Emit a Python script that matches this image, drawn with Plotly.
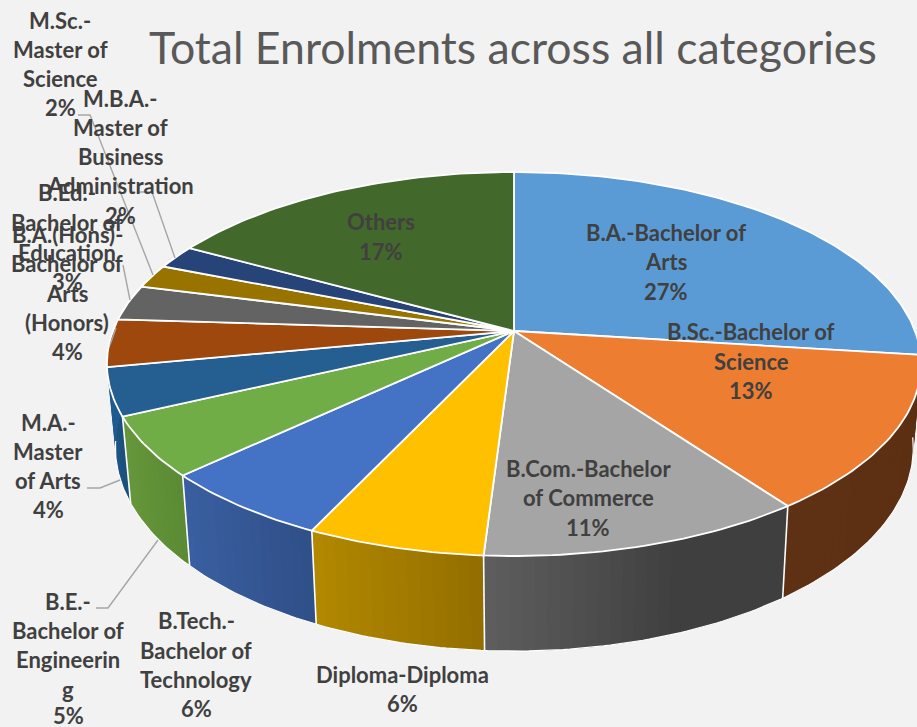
import numpy as np
import plotly.graph_objects as go

# Enrolment shares, clockwise from twelve o'clock
programmes = ["B.A.-Bachelor of Arts", "B.Sc.-Bachelor of Science", "B.Com.-Bachelor of Commerce",
              "Diploma-Diploma", "B.Tech.-Bachelor of Technology", "B.E.-Bachelor of Engineering",
              "M.A.-Master of Arts", "B.A.(Hons)-Bachelor of Arts (Honors)",
              "B.Ed.-Bachelor of Education", "M.B.A.-Master of Business Administration",
              "M.Sc.-Master of Science", "Others"]
shares = [27, 13, 11, 6, 6, 5, 4, 4, 3, 2, 2, 17]
top_colors = ["#5B9BD5", "#ED7D31", "#A5A5A5", "#FFC000", "#4472C4", "#70AD47",
              "#255E91", "#9E480E", "#636363", "#997300", "#264478", "#43682B"]
wall_left = ["#355D80", "#5F3114", "#5E5E5E", "#B38900", "#3A60A2", "#66983B",
             "#1F5B8E", "#1F5B8E", "#454545", "#6B5000", "#1A2F54", "#2F491E"]
wall_right = ["#355D80", "#5B2E12", "#3F3F3F", "#936E00", "#304F88", "#5B8A34",
              "#1B4F7C", "#1F5B8E", "#454545", "#6B5000", "#1A2F54", "#2F491E"]

# Text lines of each data label, with its centre x and the y of every line
label_lines = [
    ["B.A.-Bachelor of", "Arts"],
    ["B.Sc.-Bachelor of", "Science"],
    ["B.Com.-Bachelor", "of Commerce"],
    ["Diploma-Diploma"],
    ["B.Tech.-", "Bachelor of", "Technology"],
    ["B.E.-", "Bachelor of", "Engineerin", "g"],
    ["M.A.-", "Master", "of Arts"],
    ["B.A.(Hons)-", "Bachelor of", "Arts", "(Honors)"],
    ["B.Ed.-", "Bachelor of", "Education"],
    ["M.B.A.-", "Master of", "Business", "Administration"],
    ["M.Sc.-", "Master of", "Science"],
    ["Others"],
]
label_x = [666, 751, 588, 402, 196, 68, 48, 67, 67, 120, 60, 381]
label_y = [
    [232, 261, 291], [331, 361, 390], [468, 497, 527], [674, 703],
    [620, 650, 679, 708], [601, 630, 659, 689, 715], [422, 451, 480, 509],
    [234, 263, 293, 322, 351], [192, 222, 252, 281], [98, 127, 156, 185, 215],
    [20, 49, 78, 107], [221, 251],
]
# Leader lines from outside labels to their slices
leaders = [
    ([87, 100, 120], [488, 488, 480]),
    ([96, 108, 158], [608, 608, 540]),
    ([123, 130], [265, 300]),
    ([140, 152, 175], [192, 192, 258]),
    ([78, 90, 153], [115, 115, 275]),
    ([116, 110], [328, 345]),
]

# Tilted-disc projection of the pie in page pixels
PIVOT_X, PIVOT_Y = 514.0, 331.0
SPREAD_X, SPREAD_Y, TILT = 401.0, 186.3, 0.172
BASE_SCALE_X, BASE_FIX_X = 0.98, 532.0
BASE_SCALE_Y, BASE_SHIFT_Y = 1.059, 62.3


def rim(theta):
    u, v = np.sin(theta), np.cos(theta)
    d = 1 + TILT * v
    return PIVOT_X + SPREAD_X * u / d, PIVOT_Y - SPREAD_Y * v / d


def base(x, y):
    return BASE_FIX_X + (x - BASE_FIX_X) * BASE_SCALE_X, BASE_SCALE_Y * y + BASE_SHIFT_Y


def blend(c1, c2, t):
    a = np.array([int(c1[i:i + 2], 16) for i in (1, 3, 5)])
    b = np.array([int(c2[i:i + 2], 16) for i in (1, 3, 5)])
    r = a + (b - a) * t
    return "rgb(%d,%d,%d)" % tuple(np.round(r).astype(int))


fig = go.Figure()
plain = dict(mode="lines", hoverinfo="skip", showlegend=False)

edges = np.radians(np.cumsum([0] + shares) * 3.6)

# Outer wall, painted band by band so each slice shades across its width.
# Each band runs on under the next one, which keeps the joins closed.
for i in range(len(shares)):
    a0, a1 = edges[i], edges[i + 1]
    lo, hi = max(a0, np.radians(90)), min(a1, np.radians(285))
    if hi <= lo:
        continue
    n = max(2, int(np.degrees(hi - lo) / 1.5))
    steps = np.linspace(lo, hi, n + 1)
    for k in range(n):
        t0, t1 = steps[k], steps[min(k + 2, n)]
        x0, y0 = rim(t0)
        x1, y1 = rim(t1)
        bx0, by0 = base(x0, y0)
        bx1, by1 = base(x1, y1)
        # clockwise travel runs right to left along the front
        frac = 1 - (k + 0.5) / n
        if i == 2:
            frac = min(1.0, frac / 0.6)
        col = blend(wall_left[i], wall_right[i], frac)
        fig.add_trace(go.Scatter(x=[x1, bx1, bx0, x0, x1], y=[y1, by1, by0, y0, y1],
                                 fill="toself", fillcolor=col,
                                 line=dict(color=col, width=0), **plain))

# Thin light edge along the bottom of the wall
front = np.radians(np.linspace(97, 262, 200))
fx, fy = rim(front)
bx, by = base(fx, fy)
fig.add_trace(go.Scatter(x=bx, y=by, line=dict(color="#FFFFFF", width=1.2), **plain))

# Seams where neighbouring slices meet on the wall
for i in range(2, 7):
    sx, sy = rim(edges[i])
    ex, ey = base(sx, sy)
    fig.add_trace(go.Scatter(x=[sx, ex], y=[sy, ey], line=dict(color="#FFFFFF", width=1.6), **plain))

# Top face
for i in range(len(shares)):
    steps = np.linspace(edges[i], edges[i + 1], max(3, int(shares[i] * 3.6)) + 1)
    rx, ry = rim(steps)
    xs = np.concatenate([[PIVOT_X], rx, [PIVOT_X]])
    ys = np.concatenate([[PIVOT_Y], ry, [PIVOT_Y]])
    fig.add_trace(go.Scatter(x=xs, y=ys, fill="toself", fillcolor=top_colors[i],
                             name=programmes[i], line=dict(color="#FFFFFF", width=1.8),
                             mode="lines", hoverinfo="name", showlegend=False))

for lx, ly in leaders:
    fig.add_trace(go.Scatter(x=lx, y=ly, line=dict(color="#A6A6A6", width=1.4), **plain))

# Data labels, one annotation per line for the wide line spacing
notes = []
for i, lines in enumerate(label_lines):
    rows = lines + ["%d%%" % shares[i]]
    for text, yy in zip(rows, label_y[i]):
        notes.append(dict(x=label_x[i], y=yy, text="<b>%s</b>" % text, showarrow=False,
                          xref="x", yref="y", xanchor="center", yanchor="middle",
                          font=dict(family="Lato", size=22, color="#404040")))
notes.append(dict(x=513, y=46, text="Total Enrolments across all categories", showarrow=False,
                  xref="x", yref="y", xanchor="center", yanchor="middle",
                  font=dict(family="Lato", size=44.6, color="#595959")))

fig.update_layout(
    width=917, height=727, autosize=False, margin=dict(l=0, r=0, t=0, b=0),
    paper_bgcolor="#F2F2F2", plot_bgcolor="#F2F2F2", annotations=notes,
    xaxis=dict(range=[0, 917], visible=False, fixedrange=True),
    yaxis=dict(range=[727, 0], visible=False, fixedrange=True),
)
fig.write_html("out.html", config={"displayModeBar": False})
